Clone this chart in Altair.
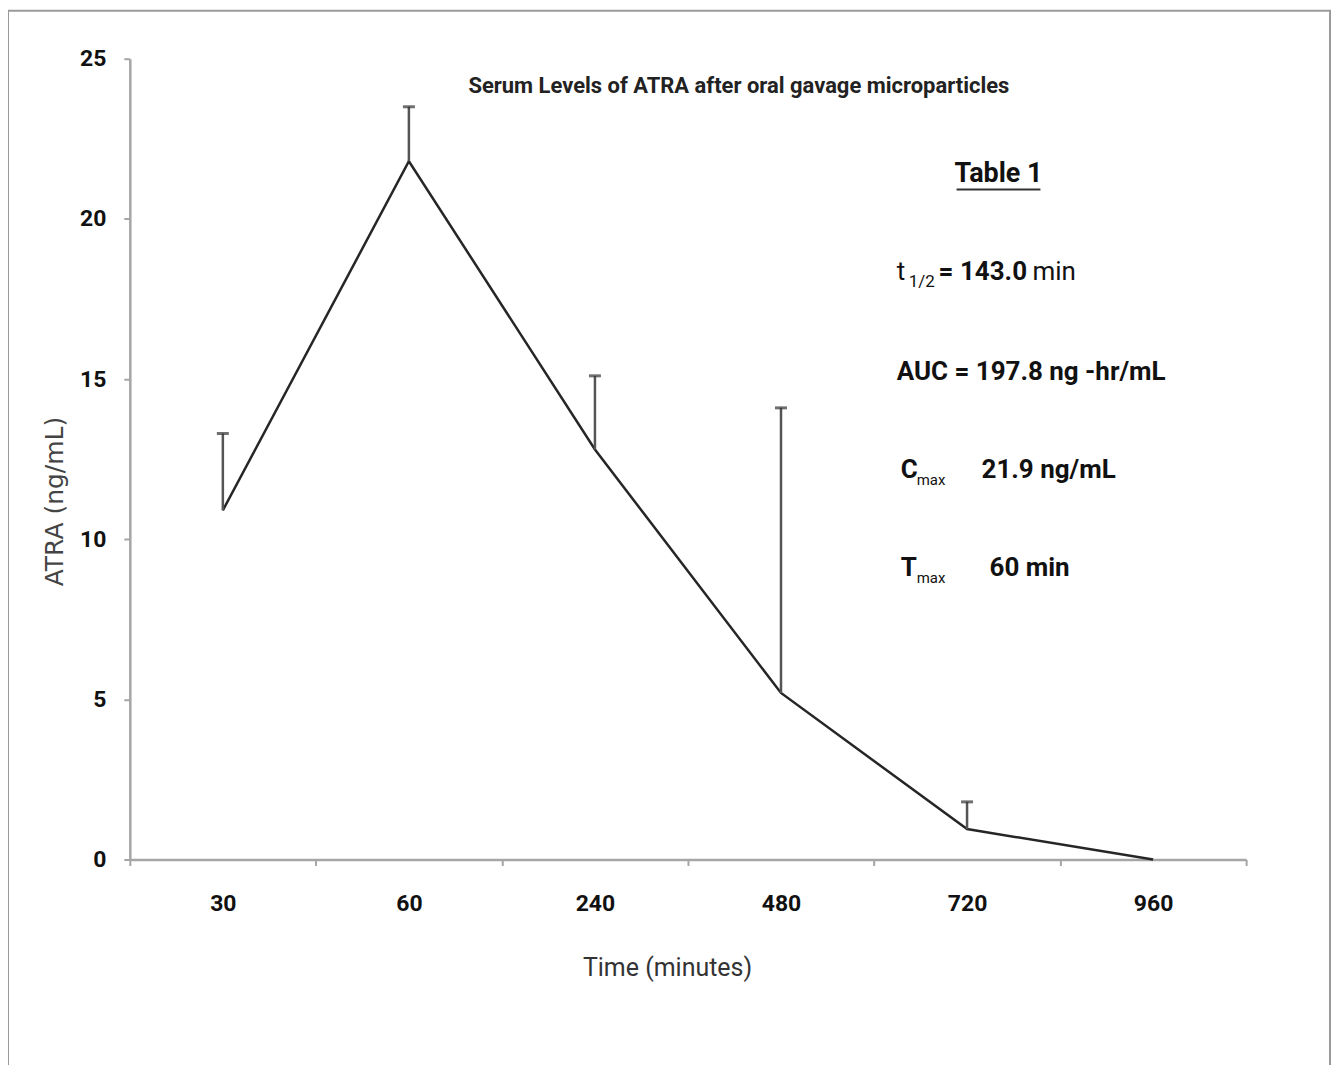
import altair as alt
import pandas as pd

times = ["30", "60", "240", "480", "720", "960"]
mean_atra = [10.9, 21.8, 12.8, 5.2, 0.95, 0.0]
upper_atra = [13.3, 23.5, 15.1, 14.1, 1.8, None]

title_text = "Serum Levels of ATRA after oral gavage microparticles"
table_title = "Table 1"

df = pd.DataFrame({"time": times, "mean": mean_atra, "upper": upper_atra})
err = df.dropna(subset=["upper"])

FONT = "Roboto, sans-serif"
AXIS_COL = "#a6a6a6"

x_enc = alt.X("time:N", sort=times, bandPosition=0.5,
              scale=alt.Scale(type="band", paddingInner=0, paddingOuter=0),
              axis=alt.Axis(title="Time (minutes)", tickBand="extent", labelAngle=0,
                            labelFont=FONT, labelFontSize=23, labelFontWeight="bold",
                            labelColor="#111", labelPadding=27, labelBaseline="top",
                            tickSize=6, tickColor=AXIS_COL, tickWidth=2,
                            domainColor=AXIS_COL, domainWidth=2.5,
                            titleFont=FONT, titleFontSize=25, titleFontWeight="normal",
                            titleColor="#333", titleX=538, titleY=108,
                            titleBaseline="middle", titleAlign="center"))

y_scale = alt.Scale(domain=[0, 25], nice=False)
y_axis = alt.Axis(title="ATRA   (ng/mL)", values=[0, 5, 10, 15, 20, 25], grid=False,
                  labelFont=FONT, labelFontSize=23, labelFontWeight="bold",
                  labelColor="#111", labelPadding=18,
                  tickSize=6, tickColor=AXIS_COL, tickWidth=2,
                  domainColor=AXIS_COL, domainWidth=2.5,
                  titleFont="DejaVu Sans", titleFontSize=25, titleFontWeight="normal",
                  titleColor="#444", titleX=-75, titleY=443, titleAngle=270,
                  titleBaseline="middle", titleAlign="center")

line = alt.Chart(df).mark_line(color="#262626", strokeWidth=2.5).encode(
    x=x_enc, y=alt.Y("mean:Q", scale=y_scale, axis=y_axis))

rule = alt.Chart(err).mark_rule(color="#555", strokeWidth=2.5).encode(
    x=alt.X("time:N", sort=times, bandPosition=0.5), y="mean:Q", y2="upper:Q")

cap = alt.Chart(err).mark_tick(color="#333", size=12, thickness=3).encode(
    x=alt.X("time:N", sort=times, bandPosition=0.5), y="upper:Q")

one = alt.Data(values=[{}])

frame = alt.Chart(one).mark_rect(fillOpacity=0, stroke="#9a9a9a", strokeWidth=2).encode(
    x=alt.value(-122), x2=alt.value(1202), y=alt.value(-48), y2=alt.value(1040))


def txt(s, x, y, size=26, weight="bold", align="left", font=FONT, color="#111"):
    return alt.Chart(one).mark_text(font=font, fontSize=size, fontWeight=weight,
                                    align=align, baseline="middle", color=color).encode(
        x=alt.value(x), y=alt.value(y), text=alt.value(s))


texts = [
    txt(title_text, 610, 27, size=22, align="center", color="#222"),
    txt(table_title, 870, 115, size=27, align="center"),
    txt("t", 768, 214, weight="normal"),
    txt("1/2", 780, 224, size=17, weight="normal"),
    txt("= 143.0", 810, 214),
    txt("min", 904, 214, weight="normal"),
    txt("AUC = 197.8 ng -hr/mL", 768, 314),
    txt("C", 772, 412),
    txt("max", 788, 422, size=15, weight="normal"),
    txt("21.9 ng/mL", 853, 412),
    txt("T", 772, 510),
    txt("max", 788, 520, size=15, weight="normal"),
    txt("60 min", 861, 510),
]

underline = alt.Chart(one).mark_rule(color="#333", strokeWidth=2).encode(
    x=alt.value(828), x2=alt.value(912), y=alt.value(131))

chart = alt.layer(frame, line, rule, cap, underline, *texts).properties(
    width=1118, height=802,
    padding={"left": 122, "top": 50, "right": 86, "bottom": 205},
    autosize=alt.AutoSizeParams(type="none"),
).configure_view(stroke=None)

chart.save("out.html", embed_options={"renderer": "svg", "actions": False})
